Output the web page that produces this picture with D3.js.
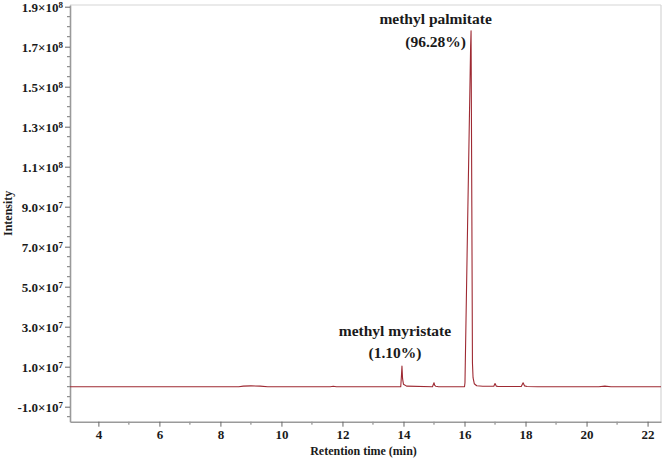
<!DOCTYPE html>
<html>
<head>
<meta charset="utf-8">
<script src="https://cdn.jsdelivr.net/npm/d3@7"></script>
<style>
  html, body { margin: 0; padding: 0; background: #fff; }
  svg { display: block; }
  text { font-family: "Liberation Serif", "Times New Roman", serif; font-weight: bold; fill: #1a1a1a; }
</style>
</head>
<body>
<svg id="chart" width="664" height="459"></svg>
<script>
// Retention time (min) and detector intensity
const retentionTime = [3.07, 8.6, 8.75, 9.0, 9.3, 9.55, 11.6, 11.7, 11.8, 13.91, 13.935, 13.95, 13.97, 14.0, 14.1, 14.95, 15.0, 15.02, 15.06, 15.15,
  16.0, 16.015, 16.1, 16.2, 16.215, 16.24, 16.26, 16.28, 16.32, 16.4, 16.6, 16.96, 17.0, 17.04, 17.1, 17.86, 17.92, 17.97, 18.05, 18.4, 20.4, 20.6, 20.8, 22.44];
const intensity = [0, 0, 3e5, 4e5, 3e5, 0, 0, 2e5, 0, 0, 6e6, 1.03e7, 4e6, 1.2e6, 3e5, 0, 2.0e6, 8e5, 2e5, 0,
  0, 2e6, 8.0e7, 1.70e8, 1.78e8, 9.0e7, 1.2e7, 4.5e6, 1.5e6, 5e5, 2e5, 2e5, 1.6e6, 3e5, 1e5, 1e5, 2.0e6, 4e5, 1e5, 0, 0, 3e5, 0, 0];

const xMajorTicks = [4, 6, 8, 10, 12, 14, 16, 18, 20, 22];
const xMinorTicks = [5, 7, 9, 11, 13, 15, 17, 19, 21];
const yMajorTicks = [-1e7, 1e7, 3e7, 5e7, 7e7, 9e7, 1.1e8, 1.3e8, 1.5e8, 1.7e8, 1.9e8];
const yTickMantissa = ["-1.0", "1.0", "3.0", "5.0", "7.0", "9.0", "1.1", "1.3", "1.5", "1.7", "1.9"];
const yTickExponent = ["7", "7", "7", "7", "7", "7", "8", "8", "8", "8", "8"];
const yMinorStep = 5e6;

const annotations = [
  { lines: ["methyl palmitate", "(96.28%)"], t: 16.2, v: 1.78e8 },
  { lines: ["methyl myristate", "(1.10%)"], t: 13.95, v: 1.03e7 }
];

const svg = d3.select("#chart");
const L = 70, R = 661, T = 5, B = 421.7;

const x = d3.scaleLinear().domain([3.07, 22.44]).range([L, R]);
const y = d3.scaleLinear().domain([-1.75e7, 1.9085e8]).range([B, T]);

// frame (top/right light)
svg.append("line").attr("x1", L).attr("x2", R).attr("y1", T).attr("y2", T).attr("stroke", "#d6d6d6").attr("stroke-width", 1.2);
svg.append("line").attr("x1", R).attr("x2", R).attr("y1", T).attr("y2", B).attr("stroke", "#d6d6d6").attr("stroke-width", 1.2);

// y minor ticks
const yMinor = d3.range(-1.5e7, 1.9e8 + 1, yMinorStep).filter(v => !yMajorTicks.some(m => Math.abs(m - v) < 1));
svg.append("g").selectAll("line").data(yMinor).join("line")
  .attr("x1", L - 3).attr("x2", L).attr("y1", d => y(d)).attr("y2", d => y(d))
  .attr("stroke", "#777").attr("stroke-width", 1);

// y axis
const yAxis = d3.axisLeft(y).tickValues(yMajorTicks).tickSize(5).tickSizeOuter(0).tickFormat("");
const gy = svg.append("g").attr("transform", `translate(${L},0)`).call(yAxis);
gy.select(".domain").attr("stroke", "#9a9a9a").attr("stroke-width", 1.6);
gy.selectAll(".tick line").attr("stroke", "#666");
gy.selectAll(".tick").each(function(d, i) {
  const t = d3.select(this).append("text")
    .attr("x", -7).attr("dy", "0.36em")
    .attr("text-anchor", "end")
    .style("font-size", "13px").attr("fill", "#1a1a1a");
  t.append("tspan").text(yTickMantissa[i] + "×10");
  t.append("tspan").attr("dy", "-0.45em").style("font-size", "9px").text(yTickExponent[i]);
});

// x minor ticks
svg.append("g").selectAll("line").data(xMinorTicks).join("line")
  .attr("x1", d => x(d)).attr("x2", d => x(d)).attr("y1", B).attr("y2", B + 3)
  .attr("stroke", "#777").attr("stroke-width", 1);

// x axis
const xAxis = d3.axisBottom(x).tickValues(xMajorTicks).tickSize(5).tickSizeOuter(0).tickFormat(d3.format("d"));
const gx = svg.append("g").attr("transform", `translate(0,${B})`).call(xAxis);
gx.select(".domain").attr("stroke", "#9a9a9a").attr("stroke-width", 1.6);
gx.selectAll(".tick line").attr("stroke", "#666");
gx.selectAll(".tick text").attr("dy", 0).attr("y", 17).style("font-size", "13px")
  .style("font-family", '"Liberation Serif", serif').style("font-weight", "bold").attr("fill", "#1a1a1a");

// axis titles
svg.append("text").attr("x", (L + R) / 2 - 2).attr("y", 455).attr("text-anchor", "middle")
  .style("font-size", "12px").text("Retention time (min)");
svg.append("text").attr("transform", `translate(12,${(T + B) / 2}) rotate(-90)`).attr("text-anchor", "middle")
  .style("font-size", "12px").text("Intensity");

// chromatogram
const pts = retentionTime.map((t, i) => [t, intensity[i]]);
svg.append("path").datum(pts)
  .attr("fill", "none").attr("stroke", "#9e2a33").attr("stroke-width", 1.1)
  .attr("stroke-linejoin", "round")
  .attr("d", d3.line().x(d => x(d[0])).y(d => y(d[1])));

// annotations
const annPos = [
  { y1: 24, y2: 47 },
  { y1: 336, y2: 358 }
];
annotations.forEach((a, i) => {
  const cx = x(a.t) + (i === 0 ? -35 : -7);
  svg.append("text").attr("x", cx).attr("y", annPos[i].y1).attr("text-anchor", "middle")
    .style("font-size", "15.5px").text(a.lines[0]);
  svg.append("text").attr("x", cx).attr("y", annPos[i].y2).attr("text-anchor", "middle")
    .style("font-size", "15.5px").text(a.lines[1]);
});
</script>
</body>
</html>
